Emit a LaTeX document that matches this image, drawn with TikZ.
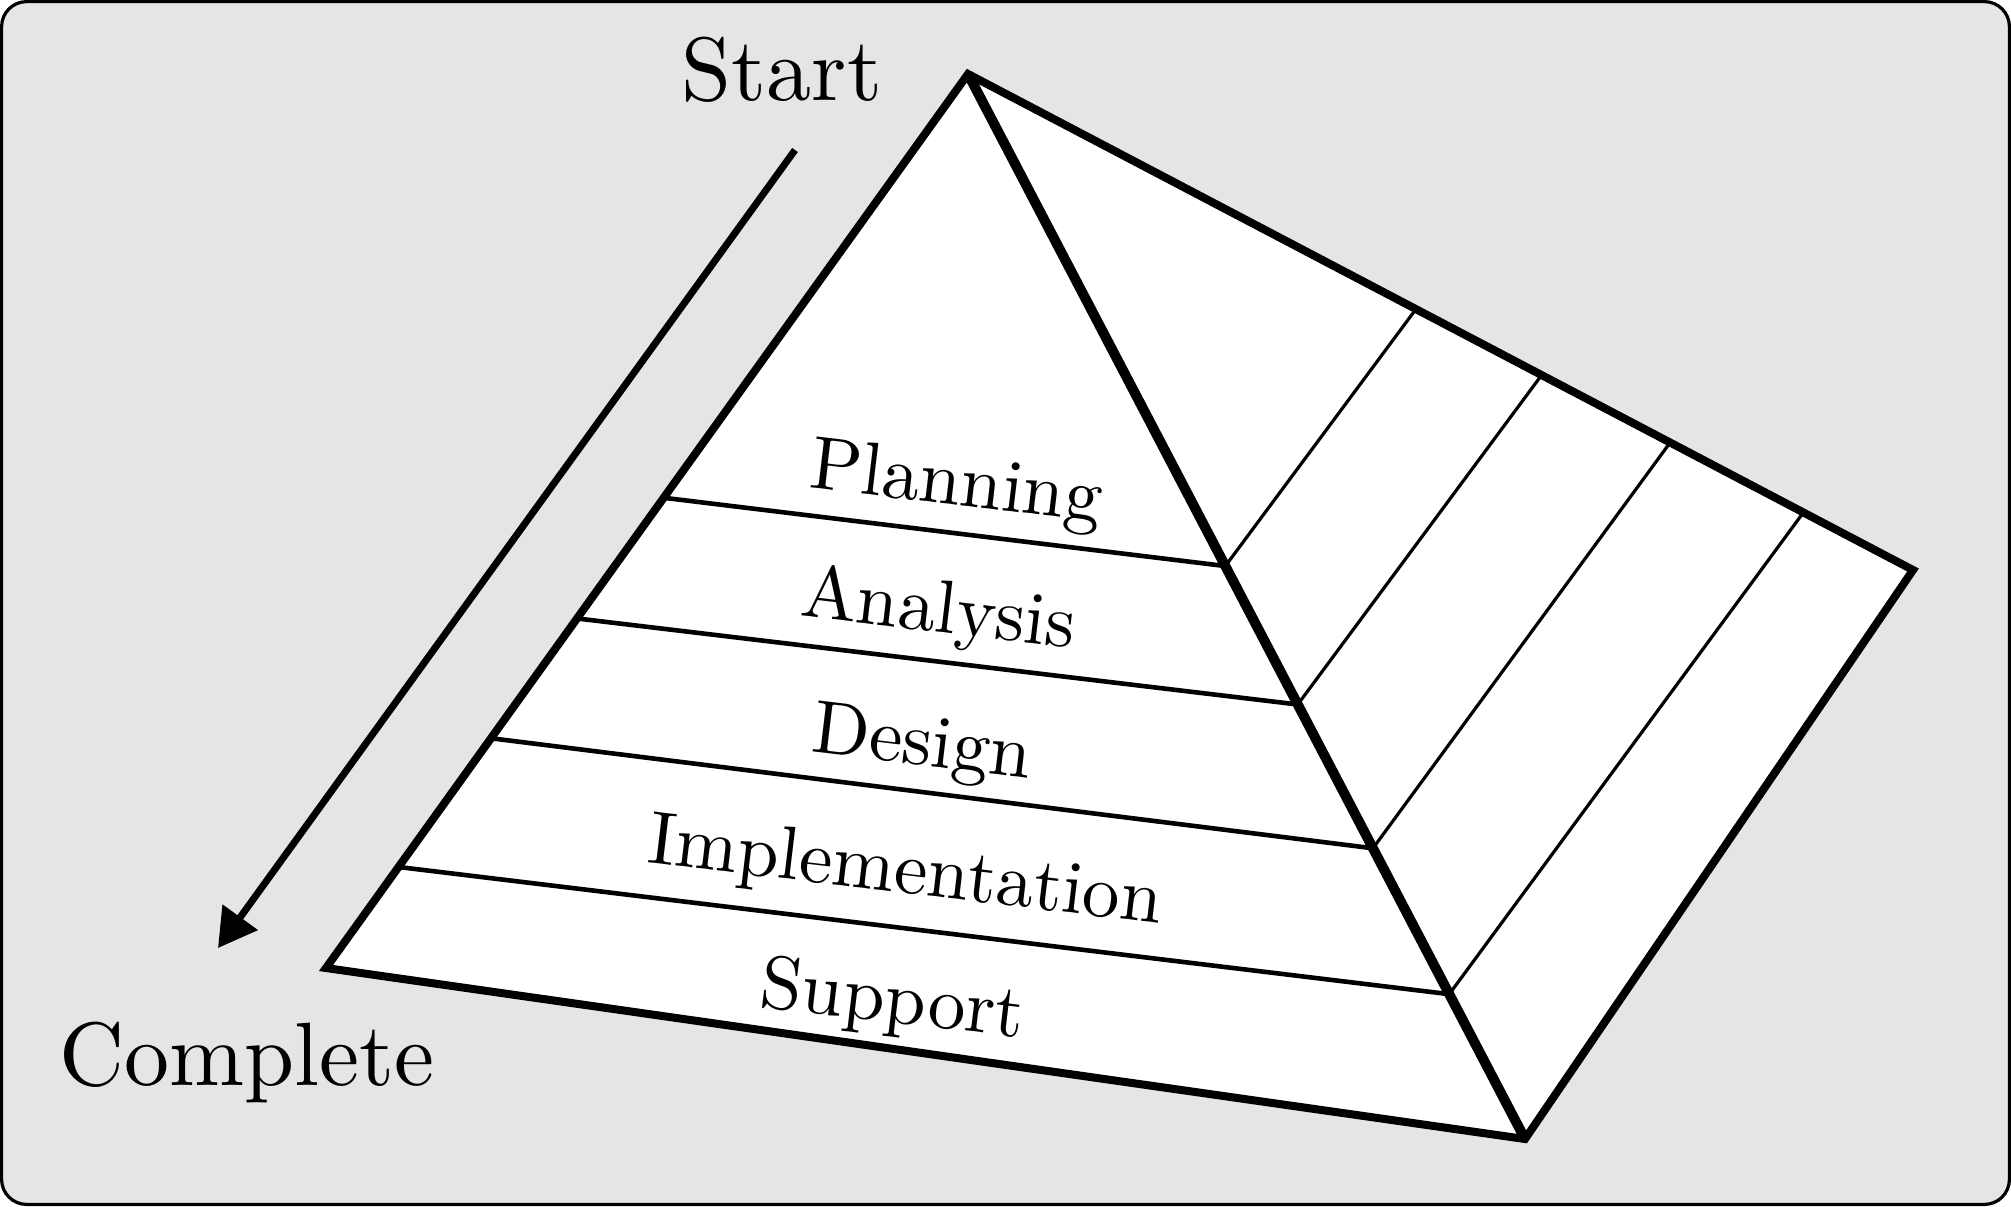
\documentclass[tikz,border=0pt]{standalone}
\usepackage{fontspec}
\setmainfont{lmroman10-regular}[Extension=.otf]
\usetikzlibrary{calc,arrows.meta}
\definecolor{bgc}{RGB}{229,229,229}
\begin{document}
\begin{tikzpicture}[x=0.5pt,y=-0.5pt,
  frame/.style={line width=1.6pt, rounded corners=12.5pt, fill=bgc},
  outline/.style={line width=4pt, line join=miter},
  ridge/.style={line width=5pt},
  layerline/.style={line width=2.3pt},
  sideline/.style={line width=1.6pt},
  bigtext/.style={font=\fontsize{45}{54}\selectfont, anchor=base, inner sep=0pt},
  layertext/.style={font=\fontsize{37.5}{45}\selectfont, anchor=base, inner sep=0pt, rotate=-6.8},
  flow/.style={line width=3.5pt, -{Triangle[length=19pt,width=21pt]}}]
\useasboundingbox (0,0) rectangle (2011,1206);
\draw[frame] (1.6,1.6) rectangle (2009.4,1204.4);
% corners of the pyramid
\coordinate (A) at (968,74);
\coordinate (BL) at (326,968);
\coordinate (BR) at (1525,1139);
\coordinate (RB) at (1913,570);
% faces
\fill[white] (A) -- (BL) -- (BR) -- cycle;
\fill[white] (A) -- (BR) -- (RB) -- cycle;
% layer boundaries
\coordinate (L1) at ($(A)!0.474!(BL)$);
\coordinate (L2) at ($(A)!0.609!(BL)$);
\coordinate (L3) at ($(A)!0.743!(BL)$);
\coordinate (L4) at ($(A)!0.887!(BL)$);
\coordinate (R1) at ($(A)!0.462!(BR)$);
\coordinate (R2) at ($(A)!0.592!(BR)$);
\coordinate (R3) at ($(A)!0.727!(BR)$);
\coordinate (R4) at ($(A)!0.864!(BR)$);
\coordinate (K1) at ($(A)!0.474!(RB)$);
\coordinate (K2) at ($(A)!0.607!(RB)$);
\coordinate (K3) at ($(A)!0.743!(RB)$);
\coordinate (K4) at ($(A)!0.884!(RB)$);
\foreach \i in {1,...,4}{
  \draw[layerline] (L\i) -- (R\i);
  \draw[sideline] (R\i) -- (K\i);
}
% outline
\draw[outline] (A) -- (BL) -- (BR) -- (RB) -- cycle;
\draw[ridge] (A) -- (BR);
% labels
\node[layertext] (plan) at (954,505) {Planning};
\node[layertext] (anal) at (936,632) {Analysis};
\node[layertext] (desi) at (920,765) {Design};
\node[layertext] (impl) at (903,893) {Implementation};
\node[layertext] (supp) at (890,1022) {Support};
\node[bigtext] (start) at (782,100) {Start};
\node[bigtext] (done) at (247,1085) {Complete};
% arrow
\coordinate (arrS) at (795,150);
\coordinate (arrE) at (218,948);
\draw[flow] (arrS) -- (arrE);
\end{tikzpicture}
\end{document}
